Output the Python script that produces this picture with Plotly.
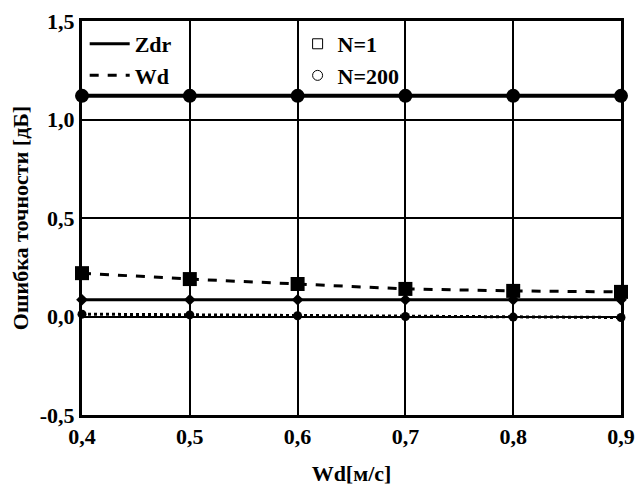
import plotly.graph_objects as go

wd = [0.4, 0.5, 0.6, 0.7, 0.8, 0.9]
zdr_n200 = [1.12, 1.12, 1.12, 1.12, 1.12, 1.12]
zdr_n1 = [0.085, 0.085, 0.085, 0.085, 0.085, 0.085]
wd_n1 = [0.22, 0.19, 0.165, 0.14, 0.13, 0.125]
wd_n200 = [0.012, 0.008, 0.004, 0.0, -0.003, -0.005]

yticks = [-0.5, 0.0, 0.5, 1.0, 1.5]
yticktext = ["<b>-0,5</b>", "<b>0,0</b>", "<b>0,5</b>", "<b>1,0</b>", "<b>1,5</b>"]
xticks = [0.4, 0.5, 0.6, 0.7, 0.8, 0.9]
xticktext = ["<b>0,4</b>", "<b>0,5</b>", "<b>0,6</b>", "<b>0,7</b>", "<b>0,8</b>", "<b>0,9</b>"]

FONT = "Liberation Serif"
fig = go.Figure()

fig.add_trace(go.Scatter(x=wd, y=zdr_n200, mode="lines+markers",
    line=dict(color="black", width=4), marker=dict(symbol="circle", size=14, color="black"),
    showlegend=False, cliponaxis=False))
fig.add_trace(go.Scatter(x=wd, y=zdr_n1, mode="lines+markers",
    line=dict(color="black", width=3), marker=dict(symbol="diamond", size=9, color="black"),
    showlegend=False, cliponaxis=False))
fig.add_trace(go.Scatter(x=wd, y=wd_n1, mode="lines+markers",
    line=dict(color="black", width=3, dash="dash"), marker=dict(symbol="square", size=14, color="black"),
    showlegend=False, cliponaxis=False))
fig.add_trace(go.Scatter(x=wd, y=wd_n200, mode="lines+markers",
    line=dict(color="black", width=3, dash="dot"), marker=dict(symbol="circle", size=9, color="black"),
    showlegend=False, cliponaxis=False))

# legend entries
fig.add_trace(go.Scatter(x=[None], y=[None], mode="lines", name="<b>Zdr</b>",
    line=dict(color="black", width=3), legend="legend"))
fig.add_trace(go.Scatter(x=[None], y=[None], mode="lines", name="<b>Wd</b>",
    line=dict(color="black", width=3, dash="dash"), legend="legend"))
fig.add_trace(go.Scatter(x=[None], y=[None], mode="markers", name="<b>N=1</b>",
    marker=dict(symbol="square-open", size=10, color="black", line=dict(width=1)), legend="legend2"))
fig.add_trace(go.Scatter(x=[None], y=[None], mode="markers", name="<b>N=200</b>",
    marker=dict(symbol="circle-open", size=10, color="black", line=dict(width=1)), legend="legend2"))

txt = dict(family=FONT, size=22, color="black")

fig.update_layout(
    width=635, height=492,
    margin=dict(l=82, r=14, t=21, b=77),
    paper_bgcolor="white", plot_bgcolor="white",
    font=dict(family=FONT, color="black", size=22),
    legend=dict(x=0.005, y=0.995, xanchor="left", yanchor="top", bgcolor="rgba(0,0,0,0)",
                font=txt, tracegroupgap=0, itemwidth=40),
    legend2=dict(x=0.40, y=0.995, xanchor="left", yanchor="top", bgcolor="rgba(0,0,0,0)",
                 font=txt, tracegroupgap=0, itemwidth=30),
    xaxis=dict(range=[0.4, 0.9], tickvals=xticks, ticktext=xticktext,
               showgrid=True, gridcolor="black", gridwidth=2,
               showline=True, linecolor="black", linewidth=3, mirror=True,
               ticks="", zeroline=False, tickfont=txt, ticklabeloverflow="allow",
               automargin=False,
               title=dict(text="<b>Wd[м/с]</b>", font=txt, standoff=18)),
    yaxis=dict(range=[-0.5, 1.5], tickvals=yticks, ticktext=yticktext,
               showgrid=True, gridcolor="black", gridwidth=2,
               showline=True, linecolor="black", linewidth=3, mirror=True,
               ticks="", zeroline=False, tickfont=txt, automargin=False,
               title=dict(text="<b>Ошибка точности [дБ]</b>", font=txt, standoff=6)),
)

fig.write_html("out.html")
